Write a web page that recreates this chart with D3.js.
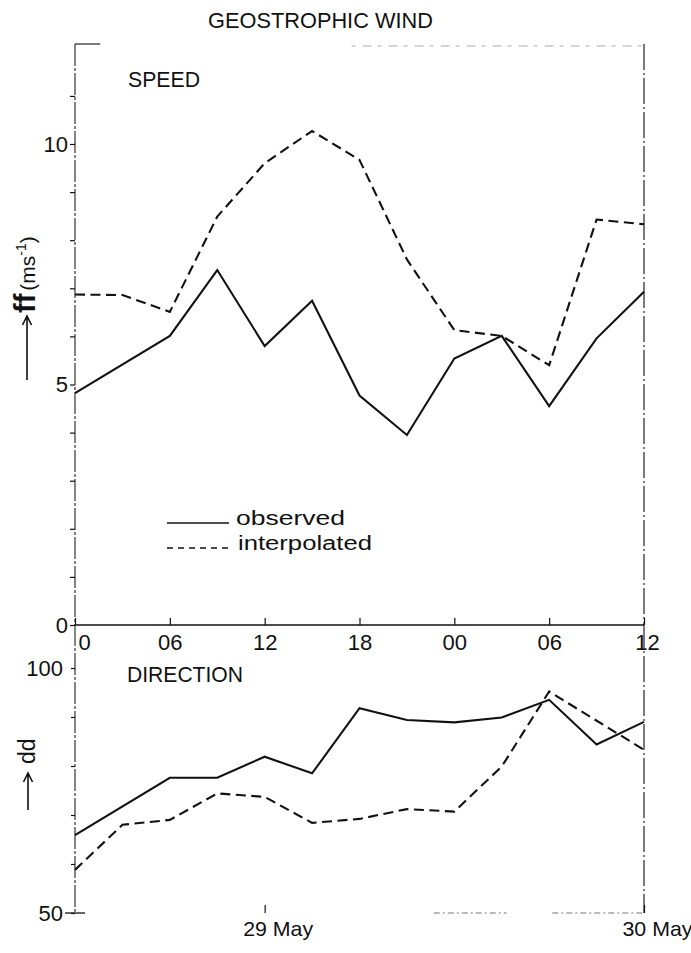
<!DOCTYPE html>
<html>
<head>
<meta charset="utf-8">
<script src="https://cdn.jsdelivr.net/npm/d3@7"></script>
<style>
  html, body { margin: 0; padding: 0; background: #fff; }
  svg { display: block; }
  text { font-family: "Liberation Sans", Arial, sans-serif; fill: #111; }
</style>
</head>
<body>
<svg id="chart" width="691" height="953"></svg>
<script>
// Time axis: hours after 29 May 00 UTC, 3-hourly
const hours = [0, 3, 6, 9, 12, 15, 18, 21, 24, 27, 30, 33, 36];

// Wind speed ff (m/s)
const speedObserved     = [4.82, null, 6.01, 7.38, 5.80, 6.74, 4.77, 3.95, 5.54, 6.01, 4.55, 5.96, 6.93];
const speedInterpolated = [6.87, 6.86, 6.51, 8.49, 9.60, 10.27, 9.67, 7.60, 6.13, 6.01, 5.40, 8.43, 8.33];

// Wind direction dd (degrees)
const dirObserved     = [65.9, null, 77.6, 77.6, 81.9, 78.5, 91.8, 89.4, 88.9, 89.9, 93.5, 84.4, 89.0];
const dirInterpolated = [58.8, 68.0, 69.0, 74.4, 73.7, 68.4, 69.2, 71.2, 70.7, 79.9, 95.2, null, 83.3];

// Axis ticks and labels
const hourTicks   = [0, 6, 12, 18, 24, 30, 36];
const hourLabels  = ["0", "06", "12", "18", "00", "06", "12"];
const dateTicks   = [12, 36];
const dateLabels  = ["29 May", "30 May"];
const speedTicks  = [0, 1, 2, 3, 4, 5, 6, 7, 8, 9, 10, 11];
const speedLabels = [0, 5, 10];
const dirTicks    = [50, 60, 70, 80, 90, 100];
const dirLabels   = [50, 100];

const seriesNames = ["observed", "interpolated"];

const svg = d3.select("#chart");
const ink = "#111";

const x  = d3.scaleLinear().domain([0, 36]).range([75, 644]);
const yS = d3.scaleLinear().domain([0, 10]).range([625, 144]);
const yD = d3.scaleLinear().domain([50, 100]).range([913, 668]);

const frameTop = 44;
const panelJoin = yS(0);
const frameBottom = yD(50);

// ---------- frame ----------
const frame = svg.append("g").attr("stroke", "#333").attr("fill", "none");
// left axis, upper and lower panels
frame.append("line").attr("x1", x(0)).attr("x2", x(0)).attr("y1", frameTop).attr("y2", frameBottom)
  .attr("stroke-width", 1.2).attr("stroke-dasharray", "22,2,3,2");
// right border
frame.append("line").attr("x1", x(36)).attr("x2", x(36)).attr("y1", frameTop).attr("y2", frameBottom)
  .attr("stroke-width", 1.3).attr("stroke-dasharray", "26,3,2,3");
// top border: corner stroke and faint remainder
frame.append("line").attr("x1", x(0)).attr("x2", x(1.6)).attr("y1", frameTop).attr("y2", frameTop)
  .attr("stroke-width", 1.3);
frame.append("line").attr("x1", x(17.5)).attr("x2", x(36)).attr("y1", frameTop + 2).attr("y2", frameTop + 2)
  .attr("stroke", "#aaa").attr("stroke-width", 1).attr("stroke-dasharray", "4,7,9,6");
// bottom border fragments
frame.append("line").attr("x1", x(22.7)).attr("x2", x(27.3)).attr("y1", frameBottom).attr("y2", frameBottom)
  .attr("stroke", "#777").attr("stroke-width", 1).attr("stroke-dasharray", "6,3,2,3");
frame.append("line").attr("x1", x(30.2)).attr("x2", x(36)).attr("y1", frameBottom).attr("y2", frameBottom)
  .attr("stroke", "#777").attr("stroke-width", 1).attr("stroke-dasharray", "6,3,2,3");
// base tick of the direction axis
frame.append("line").attr("x1", x(0) - 10).attr("x2", x(0) + 10).attr("y1", frameBottom).attr("y2", frameBottom)
  .attr("stroke", ink).attr("stroke-width", 1.3);

// ---------- speed axis ----------
const axS = svg.append("g").attr("transform", `translate(${x(0)},0)`)
  .call(d3.axisLeft(yS).tickValues(speedTicks).tickSize(5).tickPadding(2)
    .tickFormat(d => speedLabels.includes(d) ? d : ""));
axS.select(".domain").remove();
axS.selectAll("line").attr("stroke", ink).attr("stroke-width", 1.2);
axS.selectAll("text").attr("font-size", 22).attr("fill", ink).attr("font-family", null);

// ---------- direction axis ----------
const axD = svg.append("g").attr("transform", `translate(${x(0)},0)`)
  .call(d3.axisLeft(yD).tickValues(dirTicks).tickSize(4).tickPadding(8)
    .tickFormat(d => dirLabels.includes(d) ? d : ""));
axD.select(".domain").remove();
axD.selectAll("line").attr("stroke", ink).attr("stroke-width", 1.2);
axD.selectAll("text").attr("font-size", 22).attr("fill", ink).attr("font-family", null);

// ---------- hour axis between the panels ----------
const axH = svg.append("g").attr("transform", `translate(0,${panelJoin})`)
  .call(d3.axisBottom(x).tickValues(hourTicks).tickSize(-7).tickPadding(9)
    .tickFormat((d, i) => hourLabels[i]));
axH.select(".domain").attr("d", `M${x(0)},0H${x(36)}`).attr("stroke", ink).attr("stroke-width", 1.4);
axH.selectAll("line").attr("stroke", ink).attr("stroke-width", 1.2);
axH.selectAll("text").attr("font-size", 22).attr("fill", ink).attr("font-family", null)
  .attr("dx", (d, i) => i === 0 ? 9 : (i === hourTicks.length - 1 ? 3 : 0));

// ---------- date axis at the bottom ----------
const axT = svg.append("g").attr("transform", `translate(0,${frameBottom})`)
  .call(d3.axisBottom(x).tickValues(dateTicks).tickSize(-8).tickPadding(8)
    .tickFormat((d, i) => dateLabels[i]));
axT.select(".domain").remove();
axT.selectAll("line").attr("stroke", ink).attr("stroke-width", 1.2);
axT.selectAll("text").attr("font-size", 21).attr("fill", ink).attr("font-family", null)
  .attr("text-anchor", "start").attr("dx", -22)
  .attr("textLength", 70).attr("lengthAdjust", "spacingAndGlyphs");

// ---------- series ----------
function drawSeries(values, y, dashed) {
  const pts = hours.map((h, i) => [h, values[i]]).filter(d => d[1] != null);
  const line = d3.line().x(d => x(d[0])).y(d => y(d[1]));
  svg.append("path").datum(pts)
    .attr("d", line)
    .attr("fill", "none")
    .attr("stroke", ink)
    .attr("stroke-width", 2.1)
    .attr("stroke-linejoin", "miter")
    .attr("stroke-dasharray", dashed ? "10,5.5" : null);
}
drawSeries(speedObserved, yS, false);
drawSeries(speedInterpolated, yS, true);
drawSeries(dirObserved, yD, false);
drawSeries(dirInterpolated, yD, true);

// ---------- titles ----------
svg.append("text").attr("x", 208).attr("y", 28).attr("font-size", 22)
  .attr("textLength", 225).attr("lengthAdjust", "spacingAndGlyphs").text("GEOSTROPHIC WIND");
svg.append("text").attr("x", 128).attr("y", 87).attr("font-size", 22)
  .attr("textLength", 72).attr("lengthAdjust", "spacingAndGlyphs").text("SPEED");
svg.append("text").attr("x", 127).attr("y", 682).attr("font-size", 22)
  .attr("textLength", 116).attr("lengthAdjust", "spacingAndGlyphs").text("DIRECTION");

// ---------- vertical axis titles with arrows ----------
function arrowUp(cx, yBottom, yTop) {
  svg.append("path")
    .attr("d", `M${cx},${yBottom}V${yTop}M${cx - 4.5},${yTop + 9}L${cx},${yTop}L${cx + 4.5},${yTop + 9}`)
    .attr("fill", "none").attr("stroke", ink).attr("stroke-width", 1.6);
}
arrowUp(27, 380, 316);
const ffLabel = svg.append("text").attr("transform", "translate(35,313) rotate(-90)");
ffLabel.append("tspan").attr("font-size", 29).attr("font-weight", "bold").text("ff");
ffLabel.append("tspan").attr("font-size", 21).attr("dx", 3).text("(ms");
ffLabel.append("tspan").attr("font-size", 14).attr("dy", -9).text("-1");
ffLabel.append("tspan").attr("font-size", 21).attr("dy", 9).text(")");

arrowUp(28, 810, 773);
svg.append("text").attr("transform", "translate(35,764) rotate(-90)")
  .attr("font-size", 23).text("dd");

// ---------- legend ----------
const legend = svg.append("g");
seriesNames.forEach((name, i) => {
  const ly = 523 + i * 25;
  legend.append("line").attr("x1", 167).attr("x2", 229).attr("y1", ly).attr("y2", ly)
    .attr("stroke", ink).attr("stroke-width", 1.6)
    .attr("stroke-dasharray", i === 1 ? "6,5" : null);
  legend.append("text").attr("x", i === 0 ? 236 : 238).attr("y", ly + 2)
    .attr("font-size", 20)
    .attr("textLength", i === 0 ? 109 : 134).attr("lengthAdjust", "spacingAndGlyphs")
    .text(name);
});
</script>
</body>
</html>
